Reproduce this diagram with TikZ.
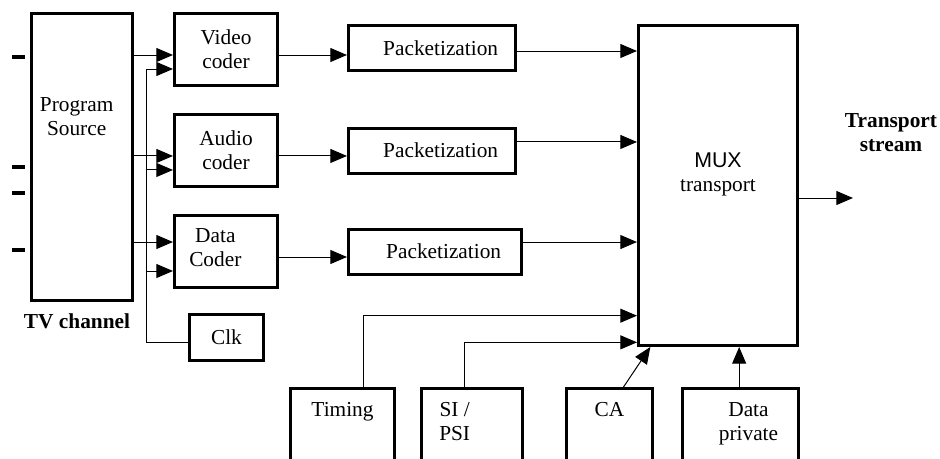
\documentclass[tikz,border=0pt]{standalone}
\usepackage{fontspec}
\setmainfont{Liberation Serif}
\setsansfont{Liberation Sans}
\usetikzlibrary{arrows.meta}

\tikzset{every picture/.style={line width=0.75pt}}
\tikzset{
	blk/.style={draw, line width=2.25pt, align=center, inner sep=0pt},
	coder/.style={blk, minimum width=77.25pt, minimum height=54pt},
	pkt/.style={blk, minimum width=125.25pt, minimum height=33.75pt, label={[xshift=6.5pt]center:Packetization}},
	aux/.style={blk, anchor=north, minimum height=75pt},
	arr/.style={-{Triangle[length=12.5pt,width=10.5pt]}}}

\begin{document}
\fontsize{16}{18}\selectfont
\begin{tikzpicture}[x=0.75pt,y=0.75pt,yscale=-1,xscale=1]
	\useasboundingbox (0,0) rectangle (940,458);
	\clip (0,0) rectangle (940,458);

	% clipped marks on the left edge
	\foreach \y in {57,167,193,250} \draw[line width=2.5pt] (12,\y) -- (25,\y);

	% Program source
	\node[blk, minimum width=75.75pt, minimum height=215.25pt, label={[align=center, xshift=-4pt, yshift=30pt]center:Program\\Source}] (src) at (82,157) {};
	\node[font=\bfseries] (tv) at (77,321) {TV channel};

	% Coders
	\node[coder] (vid) at (226,49) {Video\\coder};
	\node[coder] (aud) at (226,150.5) {Audio\\coder};
	\node[coder, label={[align=center, xshift=-8pt, yshift=2.5pt]center:Data\\Coder}] (dat) at (226,251) {};
	\node[blk, minimum width=55.5pt, minimum height=34.5pt] (clk) at (226.5,337.5) {Clk};

	% Packetization
	\node[pkt] (pk1) at (432,48) {};
	\node[pkt] (pk2) at (432,150.5) {};
	\node[pkt, minimum width=129.75pt] (pk3) at (435,251.5) {};

	% MUX
	\node[blk, minimum width=119.25pt, minimum height=240pt, label={[align=center, yshift=8pt]center:{\sffamily MUX}\\transport}] (mux) at (718,185.5) {};
	\node[font=\bfseries, align=center] (tsl) at (891,133) {Transport\\stream};
	\coordinate (tsout) at (853,198);

	% Extra inputs
	\node[aux, minimum width=78pt, label={[anchor=north, yshift=-6pt]north:Timing}] (timing) at (342.5,387) {};
	\node[aux, minimum width=75.75pt, label={[anchor=north, yshift=-6pt, xshift=-13pt, align=center]north:SI /\\PSI}] (sipsi) at (472,387) {};
	\node[aux, minimum width=64.5pt, label={[anchor=north, yshift=-6pt]north:CA}] (ca) at (609.5,387) {};
	\node[aux, minimum width=87pt, label={[anchor=north, yshift=-6pt, xshift=6pt, align=center]north:Data\\private}] (dpriv) at (740.5,387) {};

	% Source to coders
	\coordinate (bus) at (146,69);
	\draw[arr] ([yshift=4.5pt]src.east |- vid.west) -- ([yshift=4.5pt]vid.west);
	\draw[arr] (bus) -- (bus -| vid.west);
	\draw[arr] ([yshift=4.1pt]src.east |- aud.west) -- ([yshift=4.1pt]aud.west);
	\draw[arr] ([yshift=14.6pt]bus |- aud.west) -- ([yshift=14.6pt]aud.west);
	\draw[arr] ([yshift=-6.75pt]src.east |- dat.west) -- ([yshift=-6.75pt]dat.west);
	\draw[arr] ([yshift=15pt]bus |- dat.west) -- ([yshift=15pt]dat.west);
	\draw (bus) |- ([yshift=4pt]clk.west);

	% Coders to packetization
	\draw[arr] ([yshift=4.5pt]vid.east) -- ([yshift=4.5pt]vid.east -| pk1.west);
	\draw[arr] ([yshift=4.1pt]aud.east) -- ([yshift=4.1pt]aud.east -| pk2.west);
	\draw[arr] ([yshift=4.5pt]dat.east) -- ([yshift=4.5pt]dat.east -| pk3.west);

	% Packetization to MUX
	\draw[arr] ([yshift=2.25pt]pk1.east) -- ([yshift=2.25pt]pk1.east -| mux.west);
	\draw[arr] ([yshift=-6.4pt]pk2.east) -- ([yshift=-6.4pt]pk2.east -| mux.west);
	\draw[arr] ([yshift=-7.1pt]pk3.east) -- ([yshift=-7.1pt]pk3.east -| mux.west);

	% Extra inputs to MUX
	\draw[arr] ([xshift=15.4pt]timing.north) |- ([yshift=-23.5pt]mux.south west);
	\draw[arr] ([xshift=-6pt]sipsi.north) |- ([yshift=-3.5pt]mux.south west);
	\draw[arr] ([xshift=10.5pt]ca.north) -- ([xshift=10pt]mux.south west);
	\draw[arr] ([xshift=-1pt]dpriv.north) -- ([xshift=-1pt]dpriv.north |- mux.south);

	% Output
	\draw[arr] (mux.east |- tsout) -- (tsout);
\end{tikzpicture}
\end{document}
